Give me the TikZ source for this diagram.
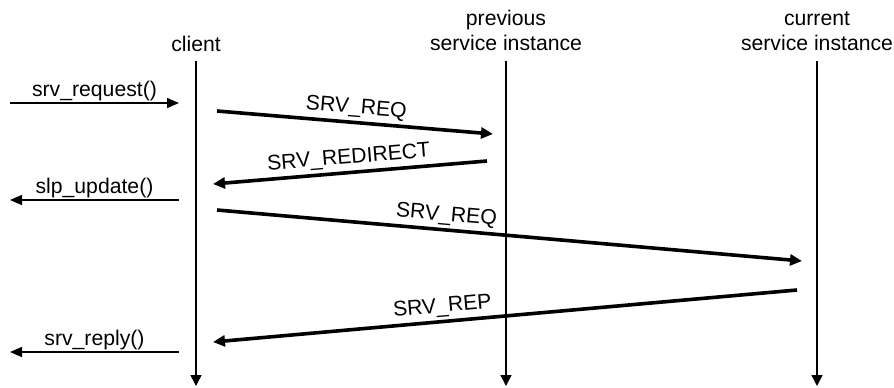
\documentclass[tikz,border=0pt]{standalone}
\usepackage{fontspec}
\setmainfont{Liberation Sans}
\usetikzlibrary{arrows.meta}
\begin{document}
\begin{tikzpicture}[x=0.5pt,y=-0.5pt,
  lbl/.style={font=\fontsize{10.6}{12.75}\selectfont, inner sep=0pt, align=center},
  life/.style={line width=0.75pt,-{Triangle[length=5.5pt,width=5.5pt]}},
  call/.style={line width=0.75pt,-{Triangle[length=6pt,width=5pt]}},
  msg/.style={line width=1.8pt,-{Triangle[length=6pt,width=5.5pt]}},
  tag/.style={font=\fontsize{10.6}{12.75}\selectfont, inner sep=1.5pt, sloped, above},
  side/.style={font=\fontsize{10.6}{12.75}\selectfont, inner sep=0.8pt, above}
]
\useasboundingbox (0,0) rectangle (894,387);

% participants (base anchor sits on the last line)
\node[lbl, anchor=base] (client) at (196,51) {client};
\node[lbl, anchor=base] (prev) at (506,50.5) {previous\\service instance};
\node[lbl, anchor=base] (curr) at (817,50.5) {current\\service instance};

% lifelines
\coordinate (c0) at (196,61);  \coordinate (c1) at (196,386);
\coordinate (p0) at (506,61);  \coordinate (p1) at (506,386);
\coordinate (q0) at (817,61);  \coordinate (q1) at (817,386);
\draw[life] (c0) -- (c1);
\draw[life] (p0) -- (p1);
\draw[life] (q0) -- (q1);

% API calls at the client
\coordinate (a0) at (10,103);  \coordinate (a1) at (179,103);
\coordinate (b0) at (179,200); \coordinate (b1) at (10,200);
\coordinate (d0) at (179,352); \coordinate (d1) at (10,352);
\draw[call] (a0) -- node[side] {srv\_request()} (a1);
\draw[call] (b0) -- node[side] {slp\_update()} (b1);
\draw[call] (d0) -- node[side] {srv\_reply()} (d1);

% protocol messages
\coordinate (m1s) at (217,111); \coordinate (m1e) at (493,134);
\coordinate (m2s) at (487,161); \coordinate (m2e) at (213,184);
\coordinate (m3s) at (217,210); \coordinate (m3e) at (802,261);
\coordinate (m4s) at (797,290); \coordinate (m4e) at (213,342);
\draw[msg] (m1s) -- node[tag] {SRV\_REQ} (m1e);
\draw[msg] (m2s) -- node[tag] {SRV\_REDIRECT} (m2e);
\draw[msg] (m3s) -- node[tag, pos=0.39] {SRV\_REQ} (m3e);
\draw[msg] (m4s) -- node[tag, pos=0.605] {SRV\_REP} (m4e);
\end{tikzpicture}
\end{document}
